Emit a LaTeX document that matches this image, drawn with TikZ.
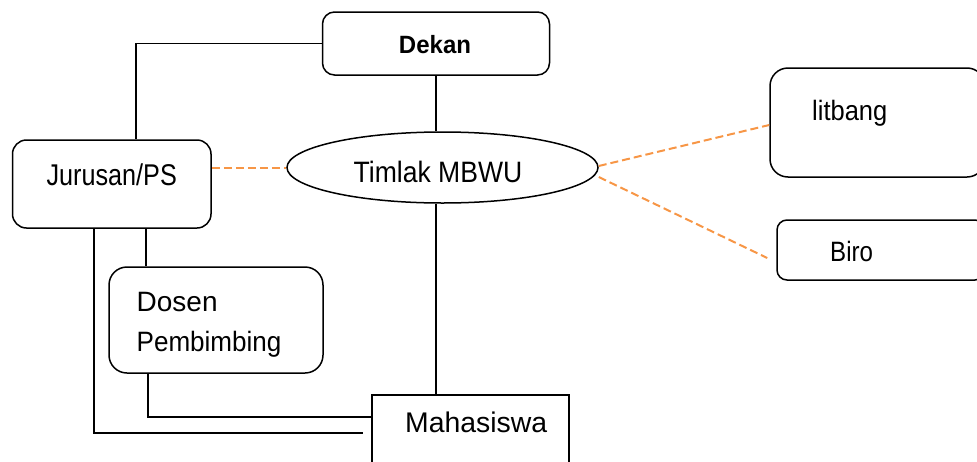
\documentclass[tikz,border=0pt]{standalone}
\usepackage{fontspec}
\setmainfont{Liberation Sans}
\usepackage{graphicx}
\usetikzlibrary{shapes.geometric}
\definecolor{linkorange}{RGB}{247,150,70}
% horizontally condensed label text
\newcommand{\hsq}[2]{\scalebox{#1}[1]{#2}}
\newcommand{\fs}[1]{\fontsize{#1}{#1}\selectfont}
\begin{document}
\begin{tikzpicture}[x=1pt,y=-1pt,
  box/.style={draw,line width=1.5pt,inner sep=0pt,minimum width=#1},
  solidlink/.style={draw,line width=1.5pt},
  dashlink/.style={draw=linkorange,line width=2pt,dash pattern=on 8pt off 4pt},
  lbl/.style={inner sep=0pt,anchor=base west}]
\useasboundingbox (0,0) rectangle (977,461);
\clip (0,0) rectangle (977,461);

% boxes
\node[box=227pt,minimum height=63pt,rounded corners=12pt] (dekan) at (436,43.5) {};
\node[box=198.5pt,minimum height=88pt,rounded corners=14pt] (jur) at (111.75,184) {};
\node[box=214pt,minimum height=106pt,rounded corners=18pt] (dosen) at (216,320) {};
\node[box=197pt,minimum height=85pt] (mhs) at (470.3,437.5) {};
\node[box=215pt,minimum height=109pt,rounded corners=18pt] (litbang) at (877.5,122.5) {};
\node[box=208pt,minimum height=60pt,rounded corners=10pt] (biro) at (881,250) {};
\node[draw,ellipse,line width=1.5pt,inner sep=0pt,minimum width=311pt,minimum height=71pt] (ell) at (442.5,167.5) {};

% labels
\node[lbl,anchor=base] (tdekan) at (435,53) {\fs{25}\bfseries\hsq{0.96}{Dekan}};
\node[lbl,anchor=base] (tjur) at (111.7,185) {\fs{30}\hsq{0.84}{Jurusan/PS}};
\node[lbl,anchor=base] (tell) at (438,182) {\fs{29.5}\hsq{0.9}{Timlak MBWU}};
\node[lbl] (tdosen) at (136.5,311.7) {\fs{28}Dosen};
\node[lbl] (tpemb) at (136.5,351.7) {\fs{28}\hsq{0.93}{Pembimbing}};
\node[lbl] (tmhs) at (405,432) {\fs{28.4}Mahasiswa};
\node[lbl] (tlit) at (812,120) {\fs{28}\hsq{0.91}{litbang}};
\node[lbl] (tbiro) at (830,261.7) {\fs{28}\hsq{0.86}{Biro}};

% free end of the Jurusan-Mahasiswa line
\coordinate (mend) at (363,433);

% solid connectors
\draw[solidlink] (dekan.west) -| ([xshift=24.25]jur.north);
\draw[solidlink] (dekan.south) -- (dekan.south |- ell.north);
\draw[solidlink] (dekan.south |- ell.south) -- (dekan.south |- mhs.north);
\draw[solidlink] ([xshift=34.25]jur.south) -- ([xshift=34.25]jur.south |- dosen.north);
\draw[solidlink] ([xshift=-18]jur.south) |- (mend);
\draw[solidlink] ([xshift=-68]dosen.south) |- ([yshift=20.5]mhs.west);

% dashed links
\draw[dashlink] (ell.west -| jur.east) -- (ell.west);
\draw[dashlink] ([yshift=1.5]ell.east) -- ([yshift=-2.5]litbang.west);
\draw[dashlink] ([yshift=-9.5]ell.east) -- ([xshift=-9,yshift=-8]biro.west);
\end{tikzpicture}
\end{document}
